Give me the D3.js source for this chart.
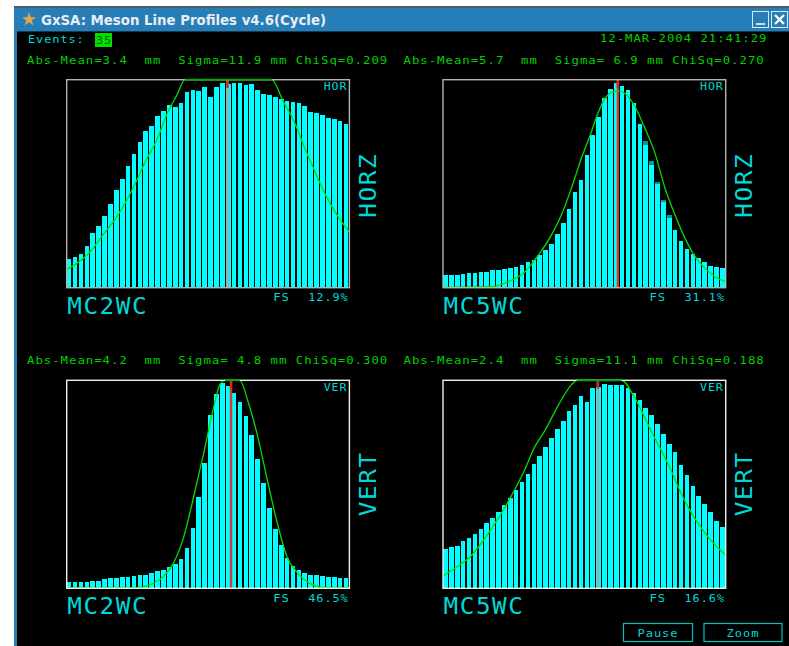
<!DOCTYPE html>
<html>
<head>
<meta charset="utf-8">
<title>GxSA: Meson Line Profiles</title>
<script src="https://cdn.jsdelivr.net/npm/d3@7"></script>
<style>
html, body { margin: 0; padding: 0; background: #fff; overflow: hidden; }
text { font-family: "DejaVu Sans Mono", monospace; }
</style>
</head>
<body>
<div id="screen"></div>
<script>
// bar heights in percent of full scale, 48 bins per profile
var mc2Hor = [13.6, 14.6, 16.3, 19.9, 26.3, 29.6, 34.3, 40.1, 47, 52.2, 58.7, 64.3, 70, 75.5, 77.6, 82.7,
    85.1, 88, 86.9, 88.6, 93.9, 94.9, 94.6, 96.6, 91.5, 96.6, 98.4, 97.8, 98.4, 98.4, 97.3, 97.8,
    94.9, 93.3, 92.6, 91.5, 90.7, 89.7, 89.1, 88.6, 87.5, 84.5, 84, 82.9, 81.7, 81.1, 80, 78.8];
var mc5Hor = [5.9, 5.9, 5.9, 6.6, 7.1, 7.2, 7.7, 7.7, 8.3, 8.3, 8.8, 9.5, 9.9, 11.1, 12.3, 13.3,
    15.5, 18.1, 20.8, 25.6, 31.3, 37.8, 45.8, 51.6, 63.8, 73.4, 82.2, 91, 95.5, 98.4, 97.1, 94.9,
    88.6, 78.5, 70.5, 60.9, 51, 42.1, 34.9, 27.7, 22.6, 18.6, 16.2, 14.4, 12.2, 10.6, 10.1, 9.3];
var mc2Ver = [3, 3, 3, 3, 3.7, 3.7, 4.3, 4.8, 4.8, 5.4, 5.4, 5.9, 6.6, 6.6, 7.2, 8.3,
    8.8, 10.1, 11.7, 14.1, 19.2, 29.2, 44.1, 60.3, 83.3, 93.3, 98.6, 97.3, 93.8, 89.7, 82.9, 73.6,
    62.2, 50.6, 38.5, 28.5, 21, 14.7, 10.6, 9, 7.2, 6.6, 6.6, 5.9, 5.4, 5.4, 4.8, 4.8];
var mc5Ver = [18.8, 19.7, 20.4, 22.6, 24.4, 26.3, 28.5, 31.3, 33.7, 36.5, 39.9, 43.4, 47.3, 51, 55.1, 59.8,
    63.8, 67.8, 72.4, 76.4, 80.4, 85.3, 88.1, 92.6, 89.7, 96.2, 96.8, 98.4, 97.8, 97.9, 97.9, 96.2,
    93.8, 90.5, 86.9, 83.3, 78.8, 74, 69.6, 65.4, 59.3, 54.5, 49.4, 44.6, 40.5, 36.5, 32.5, 29.6];

// the darker caps left on a few bars of the MC5WC horizontal profile
var mc5HorCapBins = [34, 35, 36, 37, 38];
var mc5HorCapDepth = [1.9, 1.9, 1.3, 0.8, 1.3];

// fit curves, [bin, percent]
var mc2HorFit = [[0, 8.8], [1.7, 11.7], [4, 17.3], [6.2, 25.6], [8.5, 34], [10.2, 42.1], [11.9, 51.7], [13.6, 62],
    [15.3, 71], [17, 83.3], [18.7, 92.6], [20.1, 100], [34.8, 100], [36.8, 89.4], [38.5, 80.6], [40.2, 68.6],
    [41.9, 57.4], [44.1, 43.8], [45.9, 35], [47.9, 27]];
var mc5HorFit = [[0, 0.2], [8.3, 0.5], [11.1, 2.9], [13.9, 7.7], [16.2, 15.7], [18.4, 25.3], [20.1, 34.9], [21.8, 47.8],
    [23.5, 62.2], [25, 73.4], [26.4, 84.6], [27.5, 91], [28.6, 93.9], [29.8, 94.6], [30.9, 93.4], [32.6, 87],
    [34.3, 76.6], [36, 64.6], [37.7, 47.8], [39.4, 34.9], [41.1, 23.7], [42.8, 14.9], [44.5, 9.3], [46.2, 5.3], [48, 2.9]];
var mc2VerFit = [[0, 0.2], [11.9, 0.3], [14.1, 1.6], [16.4, 5.6], [18.1, 12], [19.8, 24], [21.5, 43.3], [23.2, 64.1],
    [24.9, 86.5], [26, 97.8], [26.9, 100], [29.4, 100], [30.8, 89.7], [32.3, 74.5], [34, 52.9], [35.7, 32],
    [37.4, 15.2], [39, 8], [41.3, 2.4], [44.1, 0.3], [48, 0.2]];
var mc5VerFit = [[0, 5.9], [2, 9.6], [4.9, 16], [7.1, 24], [9.4, 33.7], [11.7, 44.9], [13.6, 55.3], [15.6, 68.1],
    [17.3, 75.8], [19.6, 88.1], [21.8, 97.8], [22.7, 100], [30.3, 100], [32.6, 91.3], [35.4, 75.3], [38.3, 59.3],
    [41.1, 41.7], [43.9, 28.8], [46.2, 20.8], [48, 16]];

var monitors = ["MC2WC", "MC5WC", "MC2WC", "MC5WC"];
var planes = ["HOR", "HOR", "VER", "VER"];
var sideLabels = ["HORZ", "HORZ", "VERT", "VERT"];
var fullScale = ["12.9%", "31.1%", "46.5%", "16.6%"];
var meanBins = [27.3, 29.7, 27.9, 26.3];
var statLines = [
    "Abs-Mean=3.4  mm  Sigma=11.9 mm ChiSq=0.209",
    "Abs-Mean=5.7  mm  Sigma= 6.9 mm ChiSq=0.270",
    "Abs-Mean=4.2  mm  Sigma= 4.8 mm ChiSq=0.300",
    "Abs-Mean=2.4  mm  Sigma=11.1 mm ChiSq=0.188"
];
var profiles = [mc2Hor, mc5Hor, mc2Ver, mc5Ver];
var fits = [mc2HorFit, mc5HorFit, mc2VerFit, mc5VerFit];

var CYAN = "#00d8d8", GREEN = "#00d000";
var svg = d3.select("#screen").append("svg").attr("width", 789).attr("height", 646)
    .style("display", "block");

// window chrome
svg.append("rect").attr("x", 14).attr("y", 7).attr("width", 775).attr("height", 639).attr("fill", "#000");
svg.append("rect").attr("x", 14).attr("y", 6).attr("width", 775).attr("height", 2).attr("fill", "#4a5a66");
svg.append("rect").attr("x", 14).attr("y", 8).attr("width", 775).attr("height", 23).attr("fill", "#277db5");
svg.append("rect").attr("x", 14).attr("y", 31).attr("width", 775).attr("height", 1).attr("fill", "#123a55");
svg.append("rect").attr("x", 14).attr("y", 8).attr("width", 3).attr("height", 638).attr("fill", "#277db5");
svg.append("path")
    .attr("transform", "translate(29,19.5)")
    .attr("d", d3.symbol().type(d3.symbolStar).size(62))
    .attr("fill", "#e0a848");
svg.append("text").attr("x", 41).attr("y", 25).text("GxSA: Meson Line Profiles v4.6(Cycle)")
    .style("font-family", "'DejaVu Sans', sans-serif").style("font-weight", "bold")
    .style("font-size", "14.2px").attr("fill", "#e8eef4")
    .attr("textLength", 285).attr("lengthAdjust", "spacingAndGlyphs");

svg.append("rect").attr("x", 752.5).attr("y", 11.5).attr("width", 16).attr("height", 16)
    .attr("fill", "#277db5").attr("stroke", "#dfe8ee");
svg.append("line").attr("x1", 756).attr("x2", 765).attr("y1", 24).attr("y2", 24)
    .attr("stroke", "#fff").attr("stroke-width", 1.5);
svg.append("rect").attr("x", 771.5).attr("y", 11.5).attr("width", 16).attr("height", 16)
    .attr("fill", "#277db5").attr("stroke", "#dfe8ee");
svg.append("path").attr("d", "M775,15L784,24M784,15L775,24").attr("stroke", "#fff").attr("stroke-width", 2.2);

// small terminal text, widened to the pitch of the original bitmap font
function label(x, y, str, color, pitch) {
    return svg.append("text").attr("x", x).attr("y", y).text(str)
        .attr("fill", color)
        .style("font-size", "11px").style("white-space", "pre")
        .style("letter-spacing", "0.9px")
        .attr("textLength", pitch * str.length).attr("lengthAdjust", "spacingAndGlyphs");
}

label(28, 43, "Events:", CYAN, 8.1);
svg.append("rect").attr("x", 95).attr("y", 33).attr("width", 17).attr("height", 14).attr("fill", "#00e000");
label(96, 44, "35", "#006000", 8);
label(600, 42, "12-MAR-2004 21:41:29", GREEN, 8.37);

var panelX = [66.7, 443, 66.7, 443];
var panelY = [79.7, 79.7, 380.3, 380.3];
var panelW = 282.7, panelH = 208;

function drawPanel(idx) {
    var x0 = panelX[idx], y0 = panelY[idx];
    var x = d3.scaleLinear().domain([0, 48]).range([x0, x0 + panelW]);
    var y = d3.scaleLinear().domain([0, 100]).range([y0 + panelH, y0]);
    var frameColor = idx < 2 ? "#b4b4b4" : "#eeeeee";

    var statX = idx % 2 === 0 ? 27 : 403.5;
    label(statX, y0 - 16, statLines[idx], GREEN, 8.4);

    var g = svg.append("g");
    g.selectAll("rect.bar")
        .data(profiles[idx])
        .enter()
        .append("rect")
        .classed("bar", true)
        .attr("x", function(d, i) { return x(i) + 0.2; })
        .attr("y", function(d) { return y(d); })
        .attr("width", x(0.78) - x(0))
        .attr("height", function(d) { return y(0) - y(d); })
        .attr("fill", "#00ffff")
        .attr("shape-rendering", "crispEdges");

    if (idx === 1) {
        g.selectAll("rect.cap")
            .data(mc5HorCapBins)
            .enter()
            .append("rect")
            .classed("cap", true)
            .attr("x", function(d) { return x(d) + 0.2; })
            .attr("y", function(d) { return y(mc5Hor[d]); })
            .attr("width", x(0.78) - x(0))
            .attr("height", function(d, i) { return y(0) - y(mc5HorCapDepth[i]); })
            .attr("fill", "#009a9a")
            .attr("shape-rendering", "crispEdges");
    }

    // mean marker, red goes greyish where it crosses a bar
    var mx = x(meanBins[idx]);
    var lineColor = (idx === 0 || idx === 3) ? "#a8a8a8" : "#e83030";
    g.append("line").attr("x1", mx).attr("x2", mx).attr("y1", y(100)).attr("y2", y(0))
        .attr("stroke", lineColor).attr("stroke-width", 2.4);
    g.append("line").attr("x1", mx).attr("x2", mx).attr("y1", y(100)).attr("y2", y(96))
        .attr("stroke", "#e02020").attr("stroke-width", 2.4);

    var fitLine = d3.line()
        .curve(d3.curveMonotoneX)
        .x(function(d) { return x(d[0]); })
        .y(function(d) { return y(d[1]); });
    g.append("path")
        .datum(fits[idx])
        .attr("d", fitLine)
        .attr("fill", "none")
        .attr("stroke", "#00dc00")
        .attr("stroke-width", 1.3);

    svg.append("rect").attr("x", x0).attr("y", y0).attr("width", panelW).attr("height", panelH)
        .attr("fill", "none").attr("stroke", frameColor).attr("stroke-width", 1.4);
    // fit sits over the frame where it is clipped at full scale
    var flat = fits[idx].filter(function(d) { return d[1] === 100; });
    if (flat.length) {
        svg.append("line")
            .attr("x1", x(flat[0][0])).attr("x2", x(flat[1][0])).attr("y1", y(100)).attr("y2", y(100))
            .attr("stroke", "#00a800").attr("stroke-width", 1.8);
    }

    label(x0 + 257, y0 + 10.5, planes[idx], CYAN, 7.9);
    label(x0 + 206.5, y0 + 221.5, "FS", CYAN, 8.3);
    label(x0 + 241.5, y0 + 221.5, fullScale[idx], CYAN, 8.1);

    svg.append("text").attr("x", x0 + 0.5).attr("y", y0 + 234).text(monitors[idx])
        .attr("fill", CYAN)
        .style("font-size", "23px").style("letter-spacing", "1.5px")
        .attr("textLength", 81).attr("lengthAdjust", "spacingAndGlyphs");

    var sx = x0 + 309, sy = idx < 2 ? y0 + 138 : y0 + 136;
    svg.append("text")
        .attr("transform", "translate(" + sx + "," + sy + ") rotate(-90)")
        .text(sideLabels[idx])
        .attr("fill", CYAN)
        .style("font-size", "23px").style("letter-spacing", "1.5px")
        .attr("textLength", 65).attr("lengthAdjust", "spacingAndGlyphs");
}

d3.range(4).forEach(drawPanel);

// buttons
var buttonNames = ["Pause", "Zoom"];
var buttonX = [623.5, 704];
var buttonW = [69, 78];
buttonNames.forEach(function(name, i) {
    svg.append("rect").attr("x", buttonX[i]).attr("y", 623.5).attr("width", buttonW[i]).attr("height", 18)
        .attr("fill", "none").attr("stroke", "#00c4c4").attr("stroke-width", 1.2);
    var w = name.length * 8.2;
    label(buttonX[i] + (buttonW[i] - w) / 2, 637, name, CYAN, 8.2);
});
</script>
</body>
</html>
